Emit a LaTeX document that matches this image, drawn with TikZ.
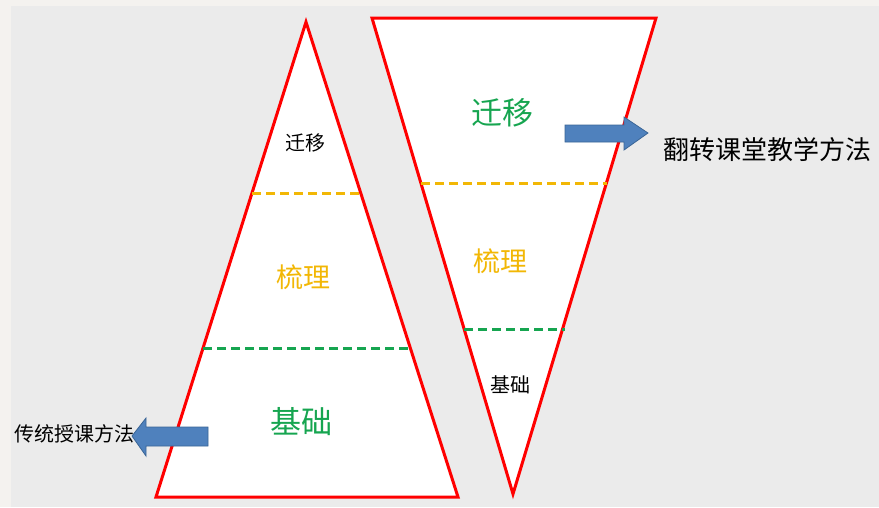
\documentclass[tikz,border=0pt]{standalone}
\usepackage{fontspec}
\setmainfont{Noto Sans CJK SC}
\definecolor{pagebg}{HTML}{F4F2EF}
\definecolor{slidebg}{HTML}{EBEBEB}
\definecolor{edgered}{HTML}{FF0000}
\definecolor{gold}{HTML}{F2B705}
\definecolor{leaf}{HTML}{16A550}
\definecolor{steel}{HTML}{4F81BD}
\definecolor{steeldark}{HTML}{3A6596}
\tikzset{
  tri/.style={draw=edgered, line width=3pt, fill=white, line join=miter},
  cutgold/.style={draw=gold, line width=3pt, dash pattern=on 9pt off 5pt},
  cutleaf/.style={draw=leaf, line width=3pt, dash pattern=on 9pt off 5pt},
  blockarrow/.style={fill=steel, draw=steeldark, line width=0.8pt},
  word/.style={inner sep=0pt}
}
\begin{document}
\begin{tikzpicture}[x=1pt,y=-1pt]
    \useasboundingbox (0,0) rectangle (879,507);
    \fill[pagebg] (0,0) rectangle (879,507);
    \fill[slidebg] (11,6) rectangle (879,507);

    % left pyramid
    \coordinate (p) at (306,22);
    \coordinate (q) at (156,497);
    \coordinate (r) at (458,497);
    \draw[tri] (p) -- (r) -- (q) -- cycle;
    \draw[cutgold] (252,193) -- (360,193);
    \draw[cutleaf] (203,348) -- (410,348);

    \node[word, font=\fontsize{20}{20}\selectfont] (mA) at (305,143) {迁移};
    \node[word, font=\fontsize{27}{27}\selectfont, text=gold] (sA) at (303,277) {梳理};
    \node[word, font=\fontsize{31}{31}\selectfont, text=leaf] (jA) at (301,422) {基础};

    % right funnel
    \coordinate (u) at (372,18);
    \coordinate (v) at (656,18);
    \coordinate (w) at (513,494);
    \draw[tri] (u) -- (v) -- (w) -- cycle;
    \draw[cutgold] (421,183) -- (607,183);
    \draw[cutleaf] (464,329) -- (565,329);

    \node[word, font=\fontsize{31}{31}\selectfont, text=leaf] (mB) at (502,113) {迁移};
    \node[word, font=\fontsize{27}{27}\selectfont, text=gold] (sB) at (500,261) {梳理};
    \node[word, font=\fontsize{20}{20}\selectfont] (jB) at (510,385) {基础};

    % labels
    \node[word, anchor=west, font=\fontsize{20}{20}\selectfont] (old) at (14,434) {传统授课方法};
    \node[word, anchor=west, font=\fontsize{26}{26}\selectfont] (new) at (663,150) {翻转课堂教学方法};

    \draw[blockarrow] (208,427) -- (146,427) -- (146,418) -- (132,436)
      -- (146,456) -- (146,446) -- (208,446) -- cycle;
    \draw[blockarrow] (565,125) -- (624,125) -- (624,117) -- (648,133)
      -- (624,150) -- (624,142) -- (565,142) -- cycle;
\end{tikzpicture}
\end{document}
